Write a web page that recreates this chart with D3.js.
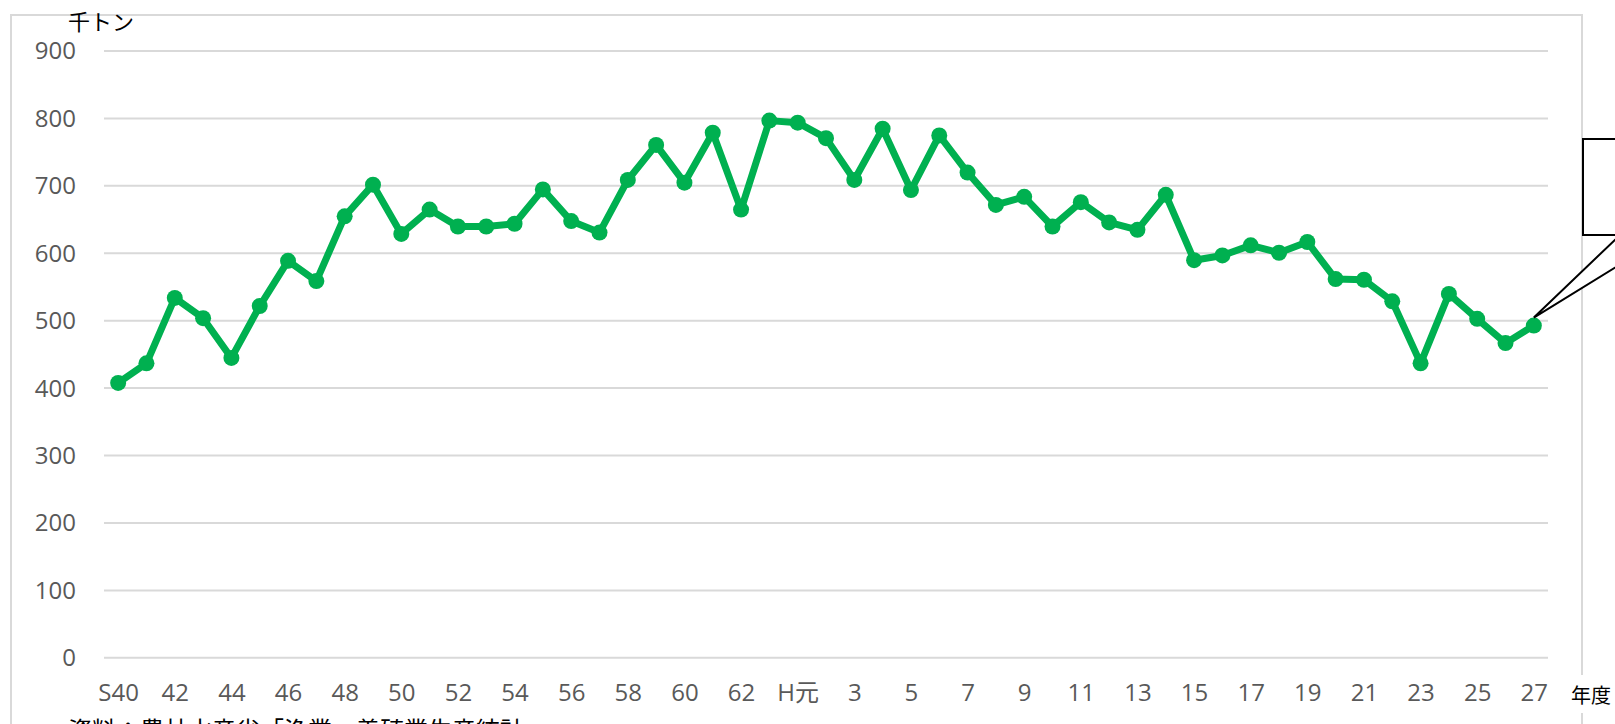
<!DOCTYPE html>
<html>
<head>
<meta charset="utf-8">
<script src="https://cdn.jsdelivr.net/npm/d3@7"></script>
<style>
    body { margin: 0; background: #fff; overflow: hidden; }
    svg { display: block; }
    .tick text { font-family: "Open Sans", "Noto Sans CJK JP", sans-serif; }
</style>
</head>
<body>
<div id="chart"></div>
<script>
// fiscal years S40 .. S63, H元 .. H27
var years = ["S40", "41", "42", "43", "44", "45", "46", "47", "48", "49",
    "50", "51", "52", "53", "54", "55", "56", "57", "58", "59",
    "60", "61", "62", "63", "H元", "2", "3", "4", "5", "6",
    "7", "8", "9", "10", "11", "12", "13", "14", "15", "16",
    "17", "18", "19", "20", "21", "22", "23", "24", "25", "26", "27"];

// 千トン
var values = [407, 436, 533, 503, 444, 521, 588, 558, 654, 701,
    628, 664, 639, 639, 643, 694, 647, 630, 708, 760,
    704, 778, 664, 796, 793, 770, 708, 784, 693, 774,
    719, 671, 683, 639, 675, 645, 634, 686, 589, 596,
    611, 600, 616, 561, 560, 528, 436, 539, 502, 466, 492];

var yTicks = [0, 100, 200, 300, 400, 500, 600, 700, 800, 900];
var xTicks = years.filter(function (d, i) { return i % 2 === 0; });

var unitLabel = "千トン";
var yearLabel = "年度";
var sourceLabel = "資料：農林水産省「漁業・養殖業生産統計」";

var width = 1615, height = 724;
var plot = { left: 104, right: 1548, top: 50.5, bottom: 657.3 };
var green = "#00B050";
var grid = "#d9d9d9";

var svg = d3.select("#chart").append("svg")
    .attr("width", width)
    .attr("height", height);

svg.append("rect")
    .attr("width", width).attr("height", height)
    .attr("fill", "#fff");

// chart frame
svg.append("rect")
    .attr("x", 11).attr("y", 15)
    .attr("width", 1571).attr("height", 800)
    .attr("fill", "none")
    .attr("stroke", grid)
    .attr("stroke-width", 2);

var xScale = d3.scalePoint()
    .domain(years)
    .range([plot.left, plot.right])
    .padding(0.5);

var yScale = d3.scaleLinear()
    .domain([0, 900])
    .range([plot.bottom, plot.top]);

// gridlines + y labels
var yAxis = d3.axisLeft(yScale)
    .tickValues(yTicks)
    .tickSize(-(plot.right - plot.left))
    .tickPadding(28);

var gy = svg.append("g")
    .attr("transform", "translate(" + plot.left + ",0)")
    .call(yAxis);
gy.select(".domain").remove();
gy.selectAll(".tick line")
    .attr("stroke", grid)
    .attr("stroke-width", 2);
gy.selectAll(".tick text")
    .attr("fill", "#595959")
    .attr("font-size", 24)
    .attr("dy", "0.35em");

// x labels
var xAxis = d3.axisBottom(xScale)
    .tickValues(xTicks)
    .tickSize(0);

var gx = svg.append("g")
    .attr("transform", "translate(0," + plot.bottom + ")")
    .call(xAxis);
gx.select(".domain").remove();
gx.selectAll(".tick text")
    .attr("fill", "#595959")
    .attr("font-size", 24)
    .attr("y", 35)
    .attr("dy", "0.35em");

// series
var line = d3.line()
    .x(function (d, i) { return xScale(years[i]); })
    .y(function (d) { return yScale(d); });

svg.append("path")
    .datum(values)
    .attr("fill", "none")
    .attr("stroke", green)
    .attr("stroke-width", 7)
    .attr("stroke-linejoin", "round")
    .attr("d", line);

svg.append("g").selectAll("circle")
    .data(values)
    .join("circle")
    .attr("cx", function (d, i) { return xScale(years[i]); })
    .attr("cy", function (d) { return yScale(d); })
    .attr("r", 8)
    .attr("fill", green);

// callout on the last point (its text lies outside the picture)
var last = values.length - 1;
var tipX = xScale(years[last]), tipY = yScale(values[last]) - 8;
var boxL = 1583, boxT = 139, boxB = 235;
var callout = d3.path();
callout.moveTo(boxL, boxT);
callout.lineTo(1700, boxT);
callout.lineTo(1700, boxB);
callout.lineTo(1668, boxB);
callout.lineTo(tipX, tipY);
callout.lineTo(1620, boxB);
callout.lineTo(boxL, boxB);
callout.closePath();
svg.append("path")
    .attr("d", callout.toString())
    .attr("fill", "#fff")
    .attr("stroke", "#000")
    .attr("stroke-width", 2)
    .attr("stroke-linejoin", "miter");

// texts
svg.append("text")
    .attr("x", 68).attr("y", 30)
    .attr("font-family", "'Noto Sans CJK JP', sans-serif")
    .attr("font-size", 22)
    .attr("fill", "#000")
    .text(unitLabel);

svg.append("rect")
    .attr("x", 1567).attr("y", 675)
    .attr("width", 48).attr("height", 38)
    .attr("fill", "#fff");
svg.append("text")
    .attr("x", 1571).attr("y", 696)
    .attr("dy", "0.35em")
    .attr("font-family", "'Noto Sans CJK JP', sans-serif")
    .attr("font-size", 20)
    .attr("fill", "#000")
    .text(yearLabel);

// source line, cut by the bottom edge as in the original
svg.append("text")
    .attr("x", 68).attr("y", 739)
    .attr("font-family", "'Noto Sans CJK JP', sans-serif")
    .attr("font-size", 24)
    .attr("fill", "#000")
    .text(sourceLabel);
</script>
</body>
</html>
